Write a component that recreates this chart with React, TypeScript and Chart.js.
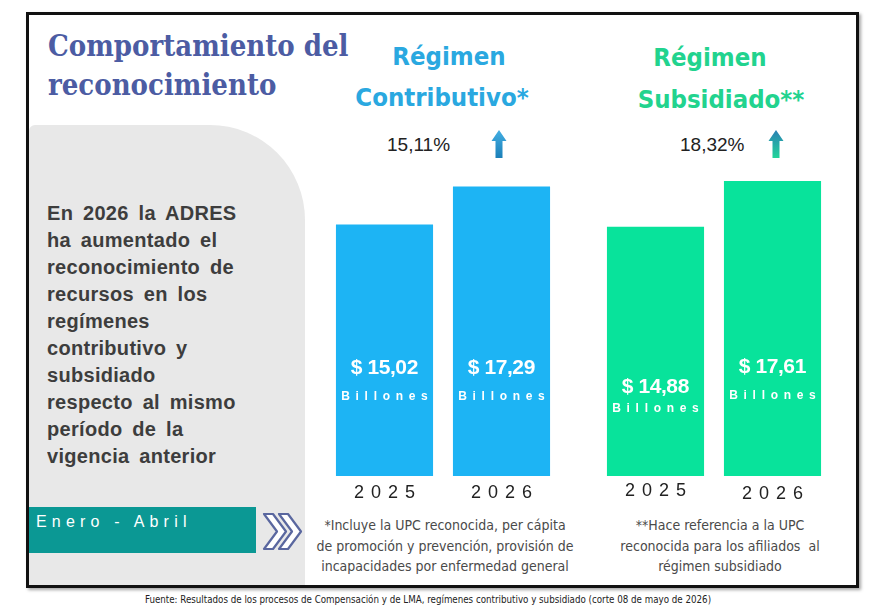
import React, { useEffect, useRef } from "react";
import { Chart, registerables } from "chart.js";

Chart.register(...registerables);

// Recognised resources, January–April, in billions of pesos
const years = ["2025", "2026"];
const contributivo = [15.02, 17.29];
const subsidiado = [14.88, 17.61];
const growthContributivo = "15,11%";
const growthSubsidiado = "18,32%";

const summaryLines = [
  "En 2026 la ADRES",
  "ha aumentado el",
  "reconocimiento de",
  "recursos en los",
  "regímenes",
  "contributivo y",
  "subsidiado",
  "respecto al mismo",
  "período de la",
  "vigencia anterior",
];

const noteContributivo = [
  "*Incluye la UPC reconocida, per cápita",
  "de promoción y prevención, provisión de",
  "incapacidades por enfermedad general",
];
const noteSubsidiado = [
  "**Hace referencia a la UPC",
  "reconocida para los afiliados  al",
  "régimen subsidiado",
];
const sourceText =
  "Fuente: Resultados de los procesos de Compensación y de LMA, regímenes contributivo y subsidiado (corte 08 de mayo de 2026)";

const fmt = (v: number) => "$ " + v.toFixed(2).replace(".", ",");

const NARROW = '"Liberation Sans Narrow", "DejaVu Sans Condensed", "Liberation Sans", sans-serif';
const SANS = '"Liberation Sans", Arial, sans-serif';

function spacedText(ctx: CanvasRenderingContext2D, text: string, x: number, y: number, spacing: number) {
  const c = ctx as any;
  c.letterSpacing = spacing + "px";
  ctx.textAlign = "center";
  ctx.fillText(text, x + spacing / 2, y);
  c.letterSpacing = "0px";
}

const barLabels = {
  id: "barLabels",
  afterDatasetsDraw(chart: any, _args: any, opts: any) {
    const { ctx, chartArea } = chart;
    const meta = chart.getDatasetMeta(0);
    const data = chart.data.datasets[0].data as number[];
    ctx.save();
    ctx.textBaseline = "middle";
    meta.data.forEach((bar: any, i: number) => {
      const [valueOff, unitOff] = opts.offsets[i];
      ctx.fillStyle = "#ffffff";
      ctx.font = `bold 21px ${SANS}`;
      spacedText(ctx, fmt(data[i]), bar.x, chartArea.bottom - valueOff, -0.4);
      ctx.font = `bold 12px ${SANS}`;
      spacedText(ctx, "Billones", bar.x, chartArea.bottom - unitOff, 5.7);
      ctx.fillStyle = "#222222";
      ctx.font = `18px ${SANS}`;
      spacedText(ctx, chart.data.labels[i], bar.x, chartArea.bottom + opts.yearOff[i], 7);
    });
    ctx.restore();
  },
};

function BarPair({ values, color, left, offsets, yearOff }: any) {
  const ref = useRef<HTMLCanvasElement>(null);
  useEffect(() => {
    const chart = new Chart(ref.current!, {
      type: "bar",
      data: {
        labels: years,
        datasets: [
          {
            data: values,
            backgroundColor: color,
            borderWidth: 0,
            categoryPercentage: 1,
            barPercentage: 0.83,
          },
        ],
      },
      options: {
        responsive: false,
        animation: false,
        devicePixelRatio: 1,
        layout: { padding: { left: 10, right: 10, top: 0, bottom: 30 } },
        scales: {
          x: { display: false },
          y: { display: false, min: 0, max: 20 },
        },
        plugins: {
          legend: { display: false },
          tooltip: { enabled: false },
          barLabels: { offsets, yearOff },
        } as any,
      },
      plugins: [barLabels],
    });
    return () => chart.destroy();
  }, []);
  return (
    <canvas
      ref={ref}
      width={254}
      height={365}
      style={{ position: "absolute", left, top: 141, width: 254, height: 365 }}
    />
  );
}

function UpArrow({ x, id, top, bottom }: any) {
  return (
    <svg style={{ position: "absolute", left: x - 9, top: 129 }} width={18} height={31}>
      <defs>
        <linearGradient id={id} x1="0" y1="0" x2="0" y2="1">
          <stop offset="0" stopColor={top} />
          <stop offset="1" stopColor={bottom} />
        </linearGradient>
      </defs>
      <path d="M9 1 L16.5 12 L12.5 12 L12.5 29 L5.5 29 L5.5 12 L1.5 12 Z" fill={`url(#${id})`} />
    </svg>
  );
}

export default function App() {
  const abs = (o: any): React.CSSProperties => ({ position: "absolute", ...o });
  return (
    <div style={{ position: "absolute", left: 0, top: 0, width: 884, height: 608, background: "#ffffff", overflow: "hidden" }}>
      {/* framed panel */}
      <div
        style={abs({
          left: 26,
          top: 12,
          width: 833,
          height: 576,
          border: "3px solid #111",
          boxSizing: "border-box",
          boxShadow: "2px 2px 3px rgba(0,0,0,0.35)",
          background: "#fff",
        })}
      />
      {/* grey summary column */}
      <div
        style={abs({
          left: 29,
          top: 125,
          width: 276,
          height: 460,
          background: "#e8e8e8",
          borderTopRightRadius: 95,
          borderTopLeftRadius: 6,
        })}
      />
      <div style={abs({ left: 47, top: 202, width: 250, height: 266, overflow: "hidden" })}>
        {summaryLines.map((l, i) => (
          <div
            key={i}
            style={{
              height: 27,
              lineHeight: "27px",
              font: `bold 20px ${SANS}`,
              letterSpacing: "0.3px",
              wordSpacing: "4px",
              color: "#3d3d3d",
              whiteSpace: "pre",
            }}
          >
            {l}
          </div>
        ))}
      </div>

      {/* main title */}
      <div
        style={abs({
          left: 48,
          top: 27,
          font: 'bold 29px "DejaVu Serif Condensed", "DejaVu Serif", serif',
          lineHeight: "39px",
          color: "#4c5ca3",
          whiteSpace: "pre",
        })}
      >
        {"Comportamiento del\nreconocimiento"}
      </div>

      {/* regime headings */}
      {[
        { cx: 449, y: 57, t: "Régimen", c: "#2aa8e0" },
        { cx: 442, y: 98, t: "Contributivo*", c: "#2aa8e0" },
        { cx: 710, y: 58, t: "Régimen", c: "#22d38e" },
        { cx: 721, y: 100, t: "Subsidiado**", c: "#22d38e" },
      ].map((h, i) => (
        <div
          key={i}
          style={abs({
            left: h.cx - 150,
            width: 300,
            top: h.y - 16,
            height: 32,
            lineHeight: "32px",
            textAlign: "center",
            font: 'bold 25.5px "DejaVu Sans Condensed", sans-serif',
            color: h.c,
          })}
        >
          {h.t}
        </div>
      ))}

      {/* growth rates */}
      <div style={abs({ left: 387, top: 133, font: `19px ${SANS}`, lineHeight: "24px", color: "#222" })}>
        {growthContributivo}
      </div>
      <div style={abs({ left: 680, top: 133, font: `19px ${SANS}`, lineHeight: "24px", color: "#222" })}>
        {growthSubsidiado}
      </div>
      <UpArrow x={499} id="arrowA" top="#43aee2" bottom="#1b7fb8" />
      <UpArrow x={776} id="arrowB" top="#2a7fb4" bottom="#22d59a" />

      <BarPair values={contributivo} color="#1db4f4" left={316} offsets={[[108, 79], [108, 79]]} yearOff={[17, 17]} />
      <BarPair values={subsidiado} color="#08e39b" left={587} offsets={[[89, 67], [109, 80]]} yearOff={[15, 18]} />

      {/* period badge */}
      <div style={abs({ left: 29, top: 507, width: 227, height: 46, background: "#0b9894" })} />
      <div
        style={abs({
          left: 36,
          top: 511,
          font: `16px ${SANS}`,
          lineHeight: "22px",
          letterSpacing: "5.2px",
          color: "#ffffff",
          whiteSpace: "pre",
        })}
      >
        {"Enero - Abril"}
      </div>
      <svg style={abs({ left: 262, top: 512 })} width={42} height={40}>
        {[0, 15].map((dx) => (
          <path
            key={dx}
            d={`M${2 + dx} 2 L${11 + dx} 2 L${24 + dx} 19.5 L${11 + dx} 37 L${2 + dx} 37 L${15 + dx} 19.5 Z`}
            fill="#ffffff"
            stroke="#5a679f"
            strokeWidth={2.2}
            strokeLinejoin="round"
          />
        ))}
      </svg>

      {/* notes */}
      {[
        { cx: 445, lines: noteContributivo },
        { cx: 720, lines: noteSubsidiado },
      ].map((n, i) => (
        <div
          key={i}
          style={abs({
            left: n.cx - 140,
            width: 280,
            top: 515,
            textAlign: "center",
            font: `14px ${NARROW}`,
            lineHeight: "20.5px",
            color: "#4a4a4a",
            whiteSpace: "pre",
          })}
        >
          {n.lines.join("\n")}
        </div>
      ))}

      <div
        style={abs({
          left: 0,
          width: 856,
          top: 593,
          textAlign: "center",
          font: `9.7px ${NARROW}`,
          lineHeight: "14px",
          color: "#222",
          whiteSpace: "pre",
        })}
      >
        {sourceText}
      </div>
    </div>
  );
}
